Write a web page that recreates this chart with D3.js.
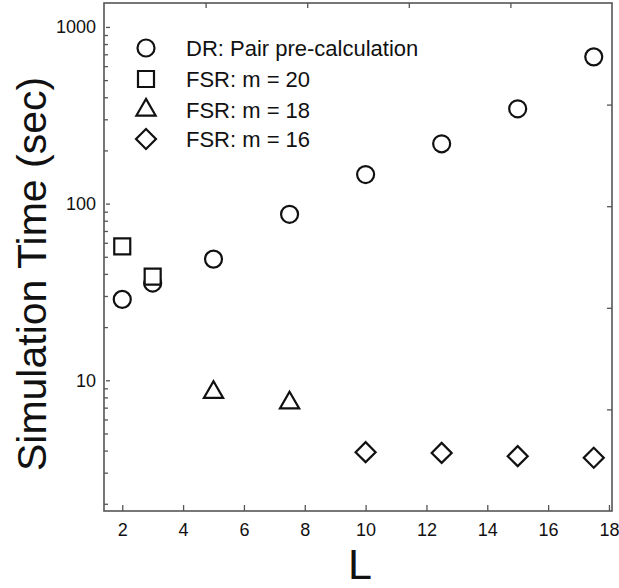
<!DOCTYPE html>
<html>
<head>
<meta charset="utf-8">
<script src="https://cdn.jsdelivr.net/npm/d3@7"></script>
<style>
  body { margin: 0; background: #fff; }
  text { font-family: "Liberation Sans", Arial, Helvetica, sans-serif; fill: #111; }
</style>
</head>
<body>
<div id="chart"></div>
<script>
// series data (L, simulation time in sec)
const drL = [2, 3, 5, 7.5, 10, 12.5, 15, 17.5];
const drTime = [28.7, 35.5, 48.5, 87, 146, 218, 344, 677];
const fsr20L = [2, 3];
const fsr20Time = [57.2, 38.6];
const fsr18L = [5, 7.5];
const fsr18Time = [8.55, 7.45];
const fsr16L = [10, 12.5, 15, 17.5];
const fsr16Time = [3.92, 3.88, 3.72, 3.64];

const seriesNames = ["DR: Pair pre-calculation", "FSR: m = 20", "FSR: m = 18", "FSR: m = 16"];
const xTicks = [2, 4, 6, 8, 10, 12, 14, 16, 18];
const yTicks = [10, 100, 1000];

const width = 619, height = 588;
const margin = { top: 3, right: 7, bottom: 77, left: 104 };
const innerW = width - margin.left - margin.right;
const innerH = height - margin.top - margin.bottom;

const svg = d3.select("#chart").append("svg")
    .attr("width", width)
    .attr("height", height);

const g = svg.append("g")
    .attr("transform", "translate(" + margin.left + "," + margin.top + ")");

const x = d3.scaleLinear().domain([1.4, 18.1]).range([0, innerW]);
const y = d3.scaleLog().domain([1.82, 1366]).range([innerH, 0]);
// the frame's top/right edges carry plain 0..1 ticks
const frameX = d3.scaleLinear().domain([0, 1]).range([0, innerW]);
const frameY = d3.scaleLinear().domain([0, 1]).range([innerH, 0]);

const axisColor = "#555";

// bottom axis
const xAxis = g.append("g")
    .attr("transform", "translate(0," + innerH + ")")
    .call(d3.axisBottom(x).tickValues(xTicks).tickSizeInner(-6).tickSizeOuter(0).tickPadding(16));
xAxis.selectAll("text").style("font-size", "18px").attr("dy", "0.5em");

// left axis: majors + minor log ticks
const minors = [];
[1, 10, 100, 1000].forEach(d => {
    for (let k = 2; k <= 9; k++) {
        const v = d * k;
        if (v > y.domain()[0] && v < y.domain()[1]) minors.push(v);
    }
});
g.append("g")
    .call(d3.axisLeft(y).tickValues(minors).tickSizeInner(-4).tickSizeOuter(0).tickFormat(""));
const yAxis = g.append("g")
    .call(d3.axisLeft(y).tickValues(yTicks).tickSizeInner(-6).tickSizeOuter(0).tickPadding(8).tickFormat(d3.format("d")));
yAxis.selectAll("line").attr("x1", 2);
yAxis.selectAll("text").style("font-size", "18px");

// top and right frame ticks
g.append("g")
    .call(d3.axisTop(frameX).tickValues([0.2, 0.4, 0.6, 0.8]).tickSizeInner(-5).tickSizeOuter(0).tickFormat(""));
g.append("g")
    .attr("transform", "translate(" + innerW + ",0)")
    .call(d3.axisRight(frameY).tickValues([0.2, 0.4, 0.6, 0.8]).tickSizeInner(-5).tickSizeOuter(0).tickFormat(""));

g.selectAll(".domain").remove();
g.selectAll(".tick line").attr("stroke", axisColor).attr("stroke-width", 1.3);

g.append("rect")
    .attr("width", innerW)
    .attr("height", innerH)
    .attr("fill", "none")
    .attr("stroke", axisColor)
    .attr("stroke-width", 1.6);

// axis titles
svg.append("text")
    .attr("transform", "translate(46," + (margin.top + innerH / 2 + 17) + ") rotate(-90)")
    .attr("text-anchor", "middle")
    .style("font-size", "41px")
    .text("Simulation Time (sec)");

svg.append("text")
    .attr("x", margin.left + innerW / 2 + 2)
    .attr("y", 579)
    .attr("text-anchor", "middle")
    .style("font-size", "43px")
    .text("L");

// marker shapes
const shapes = [
    { sym: d3.symbolCircle, size: 227, rot: 0 },
    { sym: d3.symbolSquare, size: 256, rot: 0 },
    { sym: d3.symbolTriangle, size: 160, rot: 0 },
    { sym: d3.symbolSquare, size: 200, rot: 45 }
];

const series = [
    { xs: drL, ys: drTime },
    { xs: fsr20L, ys: fsr20Time },
    { xs: fsr18L, ys: fsr18Time },
    { xs: fsr16L, ys: fsr16Time }
];

series.forEach((s, i) => {
    const shape = shapes[i];
    g.append("g").selectAll("path")
        .data(s.xs.map((v, j) => [v, s.ys[j]]))
        .enter()
        .append("path")
        .attr("d", d3.symbol().type(shape.sym).size(shape.size))
        .attr("transform", d => "translate(" + x(d[0]) + "," + y(d[1]) + ") rotate(" + shape.rot + ")")
        .attr("fill", "#fff")
        .attr("stroke", "#111")
        .attr("stroke-width", 2.2);
});

// legend
const legend = svg.append("g").attr("transform", "translate(146,48)");
const rowGap = [0, 31, 62, 91];
seriesNames.forEach((name, i) => {
    const row = legend.append("g").attr("transform", "translate(0," + rowGap[i] + ")");
    row.append("path")
        .attr("d", d3.symbol().type(shapes[i].sym).size(shapes[i].size))
        .attr("transform", "rotate(" + shapes[i].rot + ")")
        .attr("fill", "#fff")
        .attr("stroke", "#111")
        .attr("stroke-width", 2.2);
    row.append("text")
        .attr("x", 40)
        .attr("y", 8)
        .style("font-size", "22px")
        .text(name);
});
</script>
</body>
</html>
